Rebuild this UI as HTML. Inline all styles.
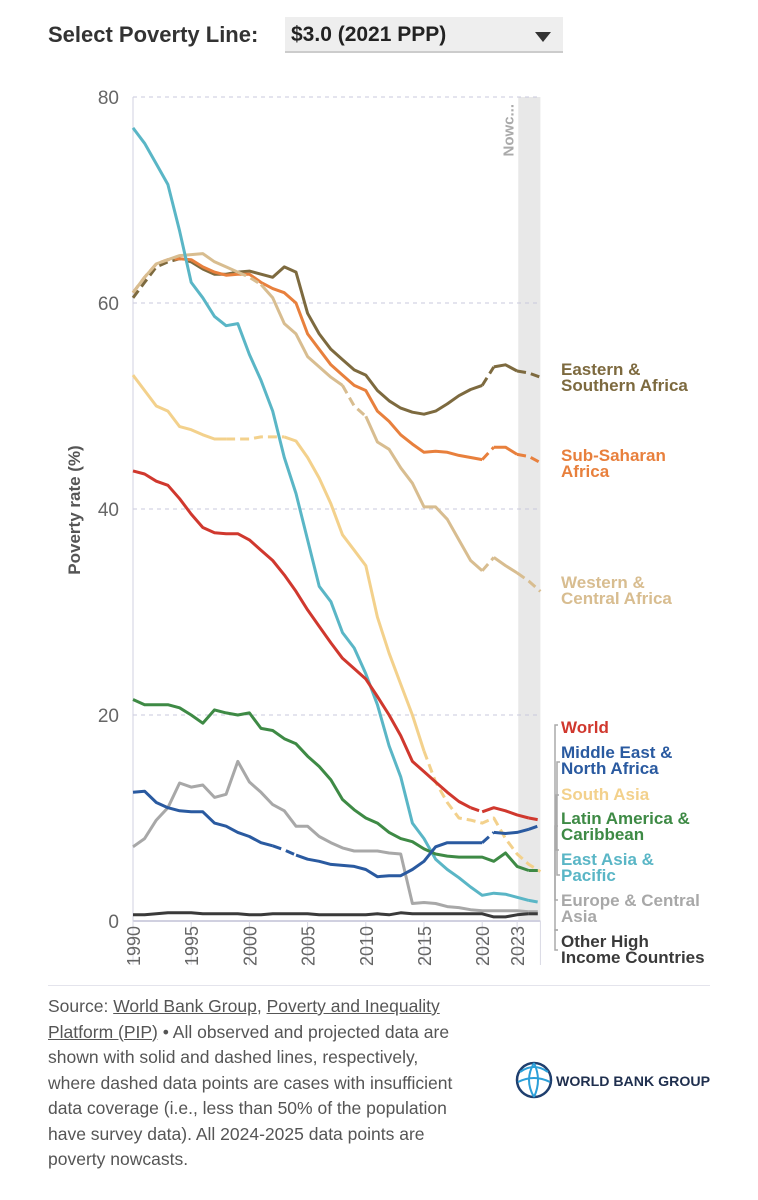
<!DOCTYPE html>
<html><head><meta charset="utf-8">
<style>
body{margin:0;background:#fff;width:758px;height:1200px;overflow:hidden;font-family:"Liberation Sans",sans-serif}
.title{position:absolute;left:48px;top:22px;font-weight:bold;font-size:22px;color:#333}
.dd{position:absolute;left:285px;top:17px;width:278px;height:36px;background:#eee;border-bottom:2px solid #ccc;font-weight:bold;font-size:21px;color:#222;box-sizing:border-box;padding:6px 6px}
.arrow{position:absolute;right:12px;top:15px;width:0;height:0;border-left:8px solid transparent;border-right:8px solid transparent;border-top:10px solid #333}
.foot{position:absolute;left:48px;top:994px;width:420px;font-size:17.5px;line-height:25.5px;color:#555}
.foot u{text-decoration:underline}
</style></head><body>
<div class="title">Select Poverty Line:</div>
<div class="dd">$3.0 (2021 PPP)<div class="arrow"></div></div>
<svg id="chart" width="758" height="990" style="position:absolute;left:0;top:0"></svg>
<div style="position:absolute;left:48px;top:985px;width:662px;height:1px;background:#e4e4ec"></div>
<div class="foot">Source: <u>World Bank Group</u>, <u>Poverty and Inequality Platform (PIP)</u> • All observed and projected data are shown with solid and dashed lines, respectively, where dashed data points are cases with insufficient data coverage (i.e., less than 50% of the population have survey data). All 2024-2025 data points are poverty nowcasts.</div>
<svg width="200" height="44" style="position:absolute;left:512px;top:1058px">
<circle cx="22" cy="22" r="17" fill="none" stroke="#1f3f6e" stroke-width="2.5"/>
<path d="M8 14 Q22 4 36 14 M6 24 Q22 16 38 24 M22 5 Q12 22 22 39 M22 5 Q30 22 22 39" fill="none" stroke="#2c9fd8" stroke-width="2"/>
<text x="44" y="28" font-weight="bold" font-size="14" textLength="154" lengthAdjust="spacingAndGlyphs" fill="#1f2f4e">WORLD BANK GROUP</text>
</svg>
<script>
const years=[];for(let y=1990;y<=2025;y++)years.push(y);
const yTicks=[0,20,40,60,80];
const xTicks=[1990,1995,2000,2005,2010,2015,2020,2023];
const eap=[77,75.5,73.5,71.5,67,62,60.5,58.7,57.8,58,55,52.5,49.5,45,41.5,37,32.5,31,28,26.5,24,21,17,14,9.5,8,6,5,4.2,3.3,2.5,2.7,2.6,2.3,2.0,1.8];
const esa=[60.5,62,63.5,64,64.3,64,63.3,62.8,62.8,63,63.1,62.8,62.5,63.5,63,59,57,55.5,54.5,53.5,53,51.5,50.5,49.8,49.4,49.2,49.5,50.2,51,51.6,52,53.8,54,53.4,53.2,52.8];
const ssa=[61,62.5,63.8,64.2,64.3,64.2,63.5,63,62.7,62.8,62.8,62,61.4,61,60,57,55.5,54,53,52,51.5,49.5,48.5,47.2,46.3,45.5,45.6,45.5,45.2,45,44.8,46,46,45.3,45.1,44.5];
const wca=[61,62.5,63.8,64.2,64.6,64.7,64.8,64,63.5,63,62.5,61.8,60.5,58,57,54.8,53.8,52.8,52,50,49,46.5,45.8,44,42.5,40.2,40.2,39,37,35,34,35.3,34.5,33.8,33,32];
const sas=[53,51.5,50,49.5,48,47.7,47.2,46.8,46.8,46.8,46.8,47,47,47,46.6,45,43,40.5,37.5,36,34.5,29.5,26,23,20,16.5,13.5,11.5,10,9.8,9.5,10,8,6.5,5.5,4.8];
const wld=[43.7,43.4,42.7,42.3,41,39.5,38.2,37.7,37.6,37.6,37,36,35,33.6,32,30.2,28.6,27,25.5,24.5,23.5,21.8,20,18,15.5,14.5,13.5,12.5,11.6,11,10.6,11,10.7,10.3,10,9.8];
const mna=[12.5,12.6,11.5,11,10.7,10.6,10.6,9.5,9.2,8.6,8.2,7.6,7.3,6.9,6.4,6.0,5.8,5.5,5.4,5.3,5.0,4.3,4.4,4.4,5.0,5.8,7.2,7.6,7.6,7.6,7.6,8.6,8.5,8.6,8.9,9.3];
const lac=[21.5,21,21,21,20.7,20,19.2,20.5,20.2,20,20.2,18.7,18.5,17.7,17.2,16,15,13.7,11.8,10.8,10,9.5,8.6,8,7.7,7,6.5,6.3,6.2,6.2,6.2,5.8,6.6,5.3,4.9,4.9];
const eca=[7.2,8,9.8,11,13.4,13,13.2,12,12.3,15.5,13.5,12.5,11.3,10.7,9.2,9.2,8.2,7.6,7.1,6.8,6.8,6.8,6.6,6.5,1.7,1.8,1.7,1.4,1.3,1.1,1.0,1.0,1.0,1.0,0.9,0.9];
const ohi=[0.6,0.6,0.7,0.8,0.8,0.8,0.7,0.7,0.7,0.7,0.6,0.6,0.7,0.7,0.7,0.7,0.6,0.6,0.6,0.6,0.6,0.7,0.6,0.8,0.7,0.7,0.7,0.7,0.7,0.7,0.7,0.4,0.4,0.6,0.7,0.7];
const series=[
 {name:'eastern-southern-africa',v:esa,c:'#7d6a3f',d:[[1990,1995],[2020,2021],[2023,2025]]},
 {name:'sub-saharan-africa',v:ssa,c:'#e8803d',d:[[1990,1994],[2020,2021],[2023,2025]]},
 {name:'western-central-africa',v:wca,c:'#d8bd90',d:[[1999,2001],[2008,2010],[2020,2021],[2023,2025]]},
 {name:'east-asia-pacific',v:eap,c:'#5ab6c6',d:[[2024,2025]]},
 {name:'south-asia',v:sas,c:'#f3d18c',d:[[1998,2003],[2015,2025]]},
 {name:'world',v:wld,c:'#d0382e',d:[[2019,2020],[2024,2025]]},
 {name:'latin-america-caribbean',v:lac,c:'#3e8a45',d:[[2024,2025]]},
 {name:'europe-central-asia',v:eca,c:'#a8a8a8',d:[[2024,2025]]},
 {name:'middle-east-north-africa',v:mna,c:'#2a5aa0',d:[[2002,2004],[2020,2021],[2024,2025]]},
 {name:'other-high-income',v:ohi,c:'#3a3a3a',d:[[2024,2025]]}
];
const X=y=>133+(y-1990)*11.64, Y=v=>921-v*10.3;
const svg=document.getElementById('chart'),NS='http://www.w3.org/2000/svg';
function mk(t,a,p){const e=document.createElementNS(NS,t);for(const k in a)e.setAttribute(k,a[k]);(p||svg).appendChild(e);return e;}
let r=mk('rect',{x:X(2023.1),y:97,width:X(2025)-X(2023.1),height:824,fill:'#e8e8e8'});

let nt=mk('text',{x:0,y:0,transform:`translate(${X(2023.1)-5},104) rotate(-90)`,'text-anchor':'end','font-size':15,'font-weight':'bold',fill:'#aaa'});nt.textContent='Nowc...';

yTicks.forEach(t=>{
 if(t>0){let g=mk('line',{x1:133,x2:X(2025),y1:Y(t),y2:Y(t),stroke:'#c9c9dc','stroke-dasharray':'4,4'});}
 let tl=mk('text',{x:119,y:Y(t)+7,'text-anchor':'end','font-size':19,fill:'#666'});tl.textContent=t;
 
});
let ax=mk('line',{x1:133,x2:133,y1:97,y2:921,stroke:'#d0d0e0'});
let bx=mk('line',{x1:133,x2:X(2025),y1:921,y2:921,stroke:'#d0d0e0','stroke-width':2});
xTicks.concat([2025]).forEach(t=>{let l=mk('line',{x1:X(t),x2:X(t),y1:921,y2:965,stroke:'#d8d8e4'});});
xTicks.forEach(t=>{let tl=mk('text',{x:0,y:0,transform:`translate(${X(t)+7},966) rotate(-90)`,'font-size':18,fill:'#666'});tl.textContent=t;
 });
let yt=mk('text',{x:0,y:0,transform:'translate(80,510) rotate(-90)','text-anchor':'middle','font-size':17,'font-weight':'bold',fill:'#555'});yt.textContent='Poverty rate (%)';

series.forEach(s=>{
 const g=mk('g',{});
 const isD=i=>s.d.some(r=>years[i]>=r[0]&&years[i+1]<=r[1]);
 let i=0;
 while(i<years.length-1){const dd=isD(i);let j=i;while(j<years.length-1&&isD(j)==dd)j++;
  let pts=[];for(let k=i;k<=j;k++)pts.push(X(years[k]).toFixed(1)+','+Y(s.v[k]).toFixed(1));
  const p=mk('polyline',{points:pts.join(' '),fill:'none',stroke:s.c,'stroke-width':3,'stroke-linejoin':'round','stroke-linecap':'butt'},g);
  if(dd)p.setAttribute('stroke-dasharray','9,5');
  
  i=j;}
});
const labels=[
 ['eastern-southern-africa-label',['Eastern &','Southern Africa'],375,'#7d6a3f'],
 ['sub-saharan-africa-label',['Sub-Saharan','Africa'],461,'#e8803d'],
 ['western-central-africa-label',['Western &','Central Africa'],588,'#d8bd90'],
 ['world-label',['World'],733,'#d0382e'],
 ['mena-label',['Middle East &','North Africa'],758,'#2a5aa0'],
 ['south-asia-label',['South Asia'],800,'#f3d18c'],
 ['lac-label',['Latin America &','Caribbean'],824,'#3e8a45'],
 ['eap-label',['East Asia &','Pacific'],865,'#5ab6c6'],
 ['eca-label',['Europe & Central','Asia'],906,'#a8a8a8'],
 ['ohi-label',['Other High','Income Countries'],947,'#3a3a3a']
];
labels.forEach(l=>{const t=mk('text',{x:561,y:l[2],'font-size':17,'font-weight':'bold',fill:l[3]});
 l[1].forEach((s,k)=>{const ts=mk('tspan',{x:561,dy:k?16:0},t);ts.textContent=s;});
 });
[[725,900,555],[762,875,557],[795,850,556],[826,930,555],[930,950,555]].forEach(b=>{
 const p=mk('path',{d:`M${b[2]+3} ${b[0]} H${b[2]} V${b[1]} H${b[2]+3}`,fill:'none',stroke:'#aaa','stroke-width':1.5});
 });
</script>
</body></html>
